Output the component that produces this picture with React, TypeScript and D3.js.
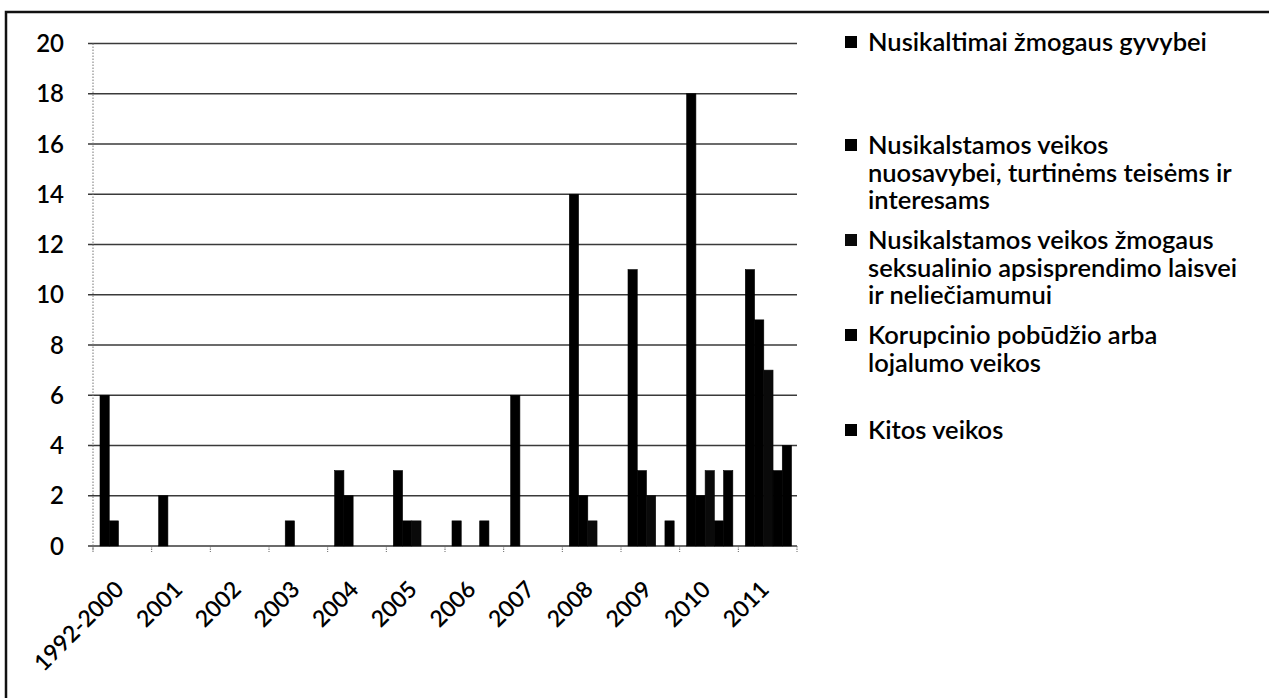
import React, { useEffect, useRef } from "react";
import * as d3 from "d3";

// categories (x axis)
const years = ["1992-2000", "2001", "2002", "2003", "2004", "2005", "2006", "2007", "2008", "2009", "2010", "2011"];

// one array per series
const gyvybei = [6, 2, 0, 0, 3, 3, 1, 6, 14, 11, 18, 11];
const nuosavybei = [1, 0, 0, 1, 2, 1, 0, 0, 2, 3, 2, 9];
const seksualinio = [0, 0, 0, 0, 0, 1, 0, 0, 1, 2, 3, 7];
const korupcinio = [0, 0, 0, 0, 0, 0, 1, 0, 0, 0, 1, 3];
const kitos = [0, 0, 0, 0, 0, 0, 0, 0, 0, 1, 3, 4];

const seriesNames = [
  ["Nusikaltimai žmogaus gyvybei"],
  ["Nusikalstamos veikos", "nuosavybei, turtinėms teisėms ir", "interesams"],
  ["Nusikalstamos veikos žmogaus", "seksualinio apsisprendimo laisvei", "ir neliečiamumui"],
  ["Korupcinio pobūdžio arba", "lojalumo veikos"],
  ["Kitos veikos"],
];
const seriesValues = [gyvybei, nuosavybei, seksualinio, korupcinio, kitos];
// the scan is black and white, every series prints as black
const seriesColors = ["#000", "#000", "#0a0a0a", "#000", "#000"];

const yTicks = [0, 2, 4, 6, 8, 10, 12, 14, 16, 18, 20];

const FONT = "Lato, 'Open Sans', sans-serif";

export default function App() {
  const ref = useRef<SVGSVGElement | null>(null);

  useEffect(() => {
    const svg = d3.select(ref.current);
    svg.selectAll("*").remove();

    const width = 1269;
    const height = 698;
    const plot = { left: 93, right: 797, top: 43.5, bottom: 546 };

    // white page + scanned frame
    svg.append("rect").attr("width", width).attr("height", height).attr("fill", "#fff");
    svg.append("rect")
      .attr("x", 6)
      .attr("y", 12)
      .attr("width", 1300)
      .attr("height", 720)
      .attr("fill", "none")
      .attr("stroke", "#111")
      .attr("stroke-width", 2.5);

    const x0 = d3.scaleBand<string>()
      .domain(years)
      .range([plot.left, plot.right])
      .padding(0);

    const x1 = d3.scaleBand<number>()
      .domain(d3.range(seriesValues.length))
      .range([7, x0.bandwidth() - 5.5])
      .padding(0);

    const y = d3.scaleLinear()
      .domain([0, 20])
      .range([plot.bottom, plot.top]);

    // gridlines
    svg.append("g")
      .selectAll("line")
      .data(yTicks)
      .enter()
      .append("line")
      .attr("x1", plot.left - 5)
      .attr("x2", plot.right)
      .attr("y1", d => y(d))
      .attr("y2", d => y(d))
      .attr("stroke", "#3a3a3a")
      .attr("stroke-width", 1.4);

    // y axis (dotted in the scan)
    svg.append("line")
      .attr("x1", plot.left)
      .attr("x2", plot.left)
      .attr("y1", plot.top)
      .attr("y2", plot.bottom + 5)
      .attr("stroke", "#777")
      .attr("stroke-width", 1)
      .attr("stroke-dasharray", "1.5,1.5");

    // y labels
    svg.append("g")
      .selectAll("text")
      .data(yTicks)
      .enter()
      .append("text")
      .attr("x", 64)
      .attr("y", d => y(d))
      .attr("dy", "0.36em")
      .attr("text-anchor", "end")
      .attr("font-family", FONT)
      .attr("font-size", 24)
      .attr("font-weight", 600)
      .attr("fill", "#000")
      .text(d => d);

    // x ticks between categories
    svg.append("g")
      .selectAll("line")
      .data(years.map(c => x0(c) as number).concat([plot.right]))
      .enter()
      .append("line")
      .attr("x1", d => d)
      .attr("x2", d => d)
      .attr("y1", plot.bottom)
      .attr("y2", plot.bottom + 6)
      .attr("stroke", "#666")
      .attr("stroke-width", 1)
      .attr("stroke-dasharray", "1.5,1");

    // bars (keep the category index with each value)
    seriesValues.forEach((vals, si) => {
      const pts = vals
        .map((v, i) => ({ year: years[i], v }))
        .filter(d => d.v > 0);
      svg.append("g")
        .selectAll("rect")
        .data(pts)
        .enter()
        .append("rect")
        .attr("x", d => (x0(d.year) as number) + (x1(si) as number))
        .attr("y", d => y(d.v))
        .attr("width", x1.bandwidth())
        .attr("height", d => y(0) - y(d.v))
        .attr("fill", seriesColors[si])
        .attr("stroke", seriesColors[si])
        .attr("stroke-width", 0.6);
    });

    // x labels, rotated
    svg.append("g")
      .selectAll("text")
      .data(years)
      .enter()
      .append("text")
      .attr("transform", d => `translate(${(x0(d) as number) + x0.bandwidth() / 2 - 3},${plot.bottom + 39}) rotate(-45)`)
      .attr("text-anchor", "end")
      .attr("dy", "0.36em")
      .attr("font-family", FONT)
      .attr("font-size", 23)
      .attr("font-weight", 600)
      .attr("fill", "#000")
      .text(d => d);

    // legend
    const legendRows = [42, 145, 240, 335, 430];
    const lineH = 27.5;
    seriesNames.forEach((lines, si) => {
      const g = svg.append("g");
      g.append("rect")
        .attr("x", 845)
        .attr("y", legendRows[si] - 6)
        .attr("width", 12)
        .attr("height", 12)
        .attr("fill", seriesColors[si]);
      lines.forEach((t, li) => {
        g.append("text")
          .attr("x", 868)
          .attr("y", legendRows[si] + li * lineH)
          .attr("dy", "0.36em")
          .attr("font-family", FONT)
          .attr("font-size", 25.5)
          .attr("font-weight", 600)
          .attr("fill", "#000")
          .text(t);
      });
    });
  }, []);

  return (
    <svg ref={ref} width={1269} height={698} style={{ position: "absolute", left: 0, top: 0, display: "block" }} />
  );
}
